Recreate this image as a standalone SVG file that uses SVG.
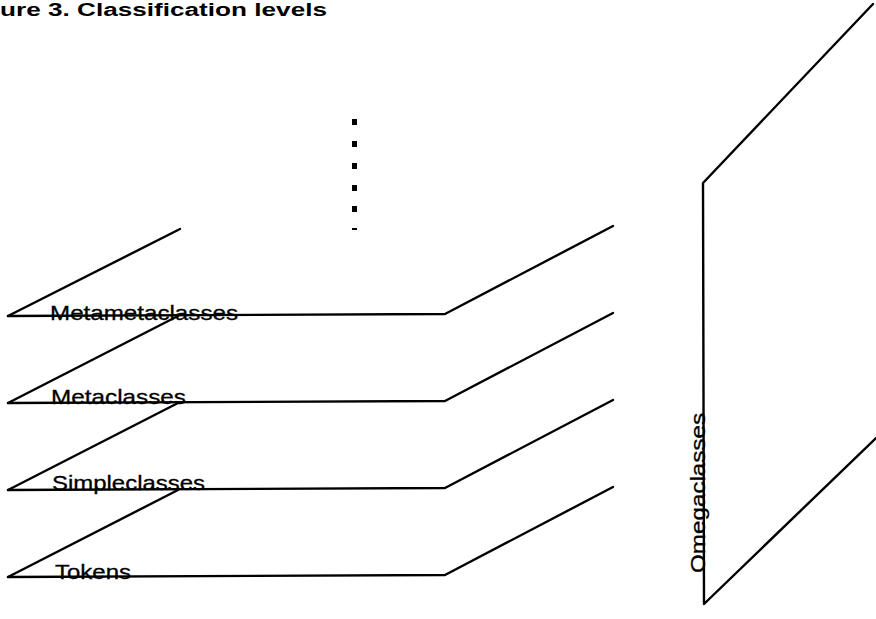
<svg xmlns="http://www.w3.org/2000/svg" width="876" height="619" viewBox="0 0 876 619">
  <style>
    .edge { fill: none; stroke: #000; stroke-width: 2.4; stroke-linejoin: round; stroke-linecap: round; }
    .label { font-family: "Liberation Sans", Arial, sans-serif; font-size: 21px; fill: #000; stroke: #000; stroke-width: 0.3; }
    .title { font-family: "Liberation Sans", Arial, sans-serif; font-size: 18px; font-weight: bold; fill: #000; }
    .dot { fill: #000; }
  </style>
  <rect width="876" height="619" fill="#fff"/>

  <text class="title" x="0" y="16" textLength="327" lengthAdjust="spacingAndGlyphs">ure 3. Classification levels</text>

  <!-- continuation dots above the top level -->
  <g id="ellipsis">
    <rect class="dot" x="352" y="119" width="5" height="6"/>
    <rect class="dot" x="352" y="141" width="5" height="6"/>
    <rect class="dot" x="352" y="163" width="5" height="6"/>
    <rect class="dot" x="352" y="185" width="5" height="6"/>
    <rect class="dot" x="352" y="206" width="5" height="6"/>
    <rect class="dot" x="352" y="228" width="5" height="2"/>
  </g>

  <g id="connectors">
    <!-- back-left edges, each ending where the plane above hides it -->
    <line class="edge" x1="8" y1="316" x2="180" y2="229"/>
    <line class="edge" x1="8" y1="403" x2="178" y2="316"/>
    <line class="edge" x1="8" y1="490" x2="178" y2="403"/>
    <line class="edge" x1="8" y1="577" x2="178" y2="490"/>
  </g>

  <g id="metametaclasses">
    <polyline class="edge" points="8,316 445,314 613,226"/>
    <text class="label" x="50" y="320" textLength="188" lengthAdjust="spacingAndGlyphs">Metametaclasses</text>
  </g>

  <g id="metaclasses">
    <polyline class="edge" points="8,403 445,401 613,313"/>
    <text class="label" x="51" y="404" textLength="135" lengthAdjust="spacingAndGlyphs">Metaclasses</text>
  </g>

  <g id="simpleclasses">
    <polyline class="edge" points="8,490 445,488 613,400"/>
    <text class="label" x="52" y="490" textLength="153" lengthAdjust="spacingAndGlyphs">Simpleclasses</text>
  </g>

  <g id="tokens">
    <polyline class="edge" points="8,577 445,575 613,487"/>
    <text class="label" x="55" y="579" textLength="76" lengthAdjust="spacingAndGlyphs">Tokens</text>
  </g>

  <g id="omegaclasses">
    <polyline class="edge" points="873,4 703,183 704,604 876,438"/>
    <text class="label" transform="translate(705,573) rotate(-90)" x="0" y="0" textLength="160" lengthAdjust="spacingAndGlyphs">Omegaclasses</text>
  </g>
</svg>
